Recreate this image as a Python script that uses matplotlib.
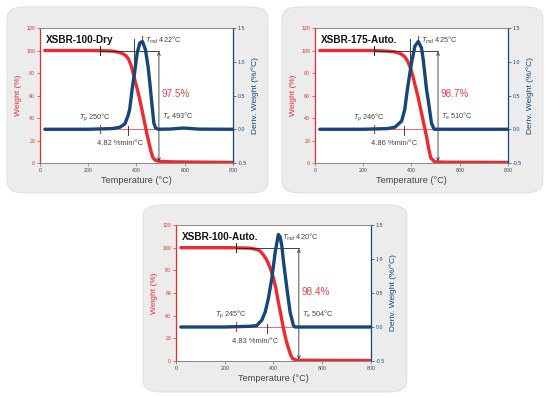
import matplotlib.pyplot as plt
from matplotlib.patches import FancyBboxPatch

plt.rcParams['font.family'] = ['Liberation Sans', 'DejaVu Sans']
plt.rcParams['mathtext.fontset'] = 'custom'
plt.rcParams['mathtext.it'] = 'Liberation Sans:italic'
plt.rcParams['mathtext.rm'] = 'Liberation Sans'

# Datos
titulos = ['XSBR-100-Dry', 'XSBR-175-Auto.', 'XSBR-100-Auto.']

temp_peso = [
    [20, 100, 200, 250, 300, 330, 345, 358, 368, 379, 393, 404, 414, 424, 434, 445, 455, 462, 469, 478, 490, 550, 700, 800],
    [20, 100, 200, 250, 300, 330, 345, 360, 372, 383, 395, 405, 414, 428, 441, 452, 462, 472, 480, 497, 550, 700, 800],
    [20, 100, 200, 250, 300, 331, 345, 359, 370, 379, 390, 400, 410, 420, 431, 441, 452, 462, 471, 479, 496, 550, 700, 800],
]
peso = [
    [100, 100, 100, 99.9, 99.5, 98.3, 97, 95, 92, 86, 74, 65, 56, 46, 35.5, 24, 15, 9, 4.4, 2.5, 1.6, 1.0, 0.7, 0.5],
    [100, 100, 100, 99.9, 99.5, 98.8, 98, 96.5, 94.5, 91, 85, 78, 70, 58, 45, 34, 24, 12, 4.5, 1.0, 0.7, 0.6, 0.5],
    [100, 100, 100, 99.9, 99.6, 98.5, 97, 93.5, 90, 86, 80, 73, 64, 52, 40, 28.6, 18, 11, 5, 2, 0.7, 0.6, 0.5, 0.4],
]

temp_deriv = [
    [20, 200, 300, 331, 352, 365, 372, 383, 393, 403, 414, 425, 437, 448, 455, 462, 472, 479, 490, 540, 570, 593, 620, 660, 800],
    [20, 200, 300, 331, 359, 372, 383, 392, 400, 414, 428, 441, 448, 455, 462, 469, 483, 494, 800],
    [20, 200, 300, 331, 352, 366, 379, 393, 407, 420, 427, 434, 441, 455, 468, 482, 489, 800],
]
deriv = [
    [0, 0, 0.01, 0.03, 0.08, 0.2, 0.3, 0.62, 0.86, 1.13, 1.28, 1.30, 1.18, 0.93, 0.7, 0.44, 0.09, 0.02, 0, 0.003, 0.012, 0.018, 0.012, 0.002, 0],
    [0, 0, 0.01, 0.03, 0.12, 0.29, 0.59, 0.8, 0.98, 1.23, 1.30, 1.21, 1.05, 0.83, 0.6, 0.44, 0.09, 0, 0],
    [0, 0, 0.01, 0.02, 0.1, 0.22, 0.42, 0.71, 1.1, 1.36, 1.33, 1.2, 0.96, 0.57, 0.22, 0.02, 0, 0],
]

t_p = [250, 246, 245]
t_md = [422, 425, 420]
t_e = [493, 510, 504]
perdida = ['97.5%', '98.7%', '98.4%']
velocidad = ['4.82 %min/°C', '4.86 %min/°C', '4.83 %min/°C']
t_tick_bajo = [366, 370, 373]
t_tick_alto = [390, 393, None]

# Colores
rojo = '#ee2a2f'
azul = '#15467a'
gris_txt = '#444444'

fig = plt.figure(figsize=(5.5, 3.97), dpi=100)

cajas = [(0.0127, 0.514, 0.4745, 0.4685), (0.5127, 0.514, 0.4745, 0.4685), (0.26, 0.0126, 0.48, 0.471)]
ejes = [(0.0727, 0.5894, 0.3509, 0.340), (0.5727, 0.5894, 0.3509, 0.340), (0.32, 0.0907, 0.3545, 0.3425)]

for i in range(3):
    x0, y0, w, h = cajas[i]
    fig.add_artist(FancyBboxPatch((x0, y0), w, h, boxstyle='round,pad=0,rounding_size=0.03',
                                  transform=fig.transFigure, facecolor='#ececec',
                                  edgecolor='#dddddd', linewidth=0.6, zorder=0))

    ax1 = fig.add_axes(ejes[i])
    ax2 = ax1.twinx()

    ax1.plot(temp_peso[i], peso[i], color=rojo, linewidth=2.4, solid_capstyle='round')
    ax2.plot(temp_deriv[i], deriv[i], color=azul, linewidth=2.4, solid_capstyle='round')

    ax1.set_xlim(0, 800)
    ax1.set_ylim(0, 120)
    ax2.set_ylim(-0.5, 1.5)
    ax1.set_xticks([0, 200, 400, 600, 800])
    ax1.set_yticks(range(0, 121, 20))
    ax2.set_yticks([-0.5, 0.0, 0.5, 1.0, 1.5])
    ax2.set_yticklabels(['-0.5', '0.0', '0.5', '1.0', '1.5'])

    for ax in (ax1, ax2):
        for s in ax.spines.values():
            s.set_linewidth(0.6)
            s.set_color('#888888')
    ax1.spines['left'].set_color(rojo)
    ax1.spines['left'].set_linewidth(0.9)
    ax2.spines['left'].set_visible(False)
    ax2.spines['right'].set_color(azul)
    ax2.spines['right'].set_linewidth(0.9)

    ax1.tick_params(axis='y', colors=rojo, labelsize=3.8, length=2, width=0.5, pad=1.5)
    ax1.tick_params(axis='x', colors='#777777', labelcolor=gris_txt, labelsize=3.8, length=2, width=0.5, pad=1.5)
    ax2.tick_params(axis='y', colors=azul, labelsize=3.8, length=2, width=0.5, pad=1.5)

    ax1.set_ylabel('Weight (%)', color=rojo, fontsize=6, labelpad=3)
    ax2.set_ylabel('Deriv. Weight (%/°C)', color=azul, fontsize=6, labelpad=3)
    ax1.set_xlabel('Temperature (°C)', color=gris_txt, fontsize=6.6, labelpad=2)

    ax1.text(0.03, 0.945, titulos[i], transform=ax1.transAxes, fontsize=7.2,
             fontweight='bold', color='#111111', va='top')

    # Lineas de anotacion
    ax1.plot([t_p[i], t_e[i]], [100, 100], color='#222222', linewidth=0.6)
    ax1.plot([t_p[i], t_p[i]], [96, 104], color='#222222', linewidth=0.7)
    ax1.plot([t_p[i], t_e[i]], [30, 30], color=rojo, linewidth=0.5)
    ax1.plot([t_p[i], t_p[i]], [26.5, 34], color=rojo, linewidth=0.8)
    ax1.plot([t_tick_bajo[i], t_tick_bajo[i]], [25, 33], color='#222222', linewidth=0.6)
    if t_tick_alto[i] is not None:
        ax1.plot([t_tick_alto[i], t_tick_alto[i]], [88, 110], color='#222222', linewidth=0.6)
    ax1.plot([t_md[i], t_md[i]], [108, 113], color=rojo, linewidth=0.8)
    ax1.annotate('', xy=(t_e[i], 1.5), xytext=(t_e[i], 99),
                 arrowprops=dict(arrowstyle='<->', color='#333333', linewidth=0.6,
                                 shrinkA=0, shrinkB=0, mutation_scale=5))

    ax1.text(t_p[i] + 45, 41, r'$T_p$' + ' %d°C' % t_p[i], fontsize=5.3,
             color=gris_txt, ha='right', va='center')
    ax1.text(t_md[i] + 15, 109, r'$T_{md}$' + ' %d°C' % t_md[i], fontsize=5.3,
             color=gris_txt, ha='left', va='center')
    ax1.text(t_e[i] + 12, 41, r'$T_e$' + ' %d°C' % t_e[i], fontsize=5.3,
             color=gris_txt, ha='left', va='center')
    ax1.text(t_e[i] + 12, 61, perdida[i], fontsize=7.2, color='#f2404a',
             ha='left', va='center')
    ax1.text(t_p[i] - 15, 17, velocidad[i], fontsize=5.4, color=gris_txt,
             ha='left', va='center')

fig.savefig('out.png', dpi=100)
